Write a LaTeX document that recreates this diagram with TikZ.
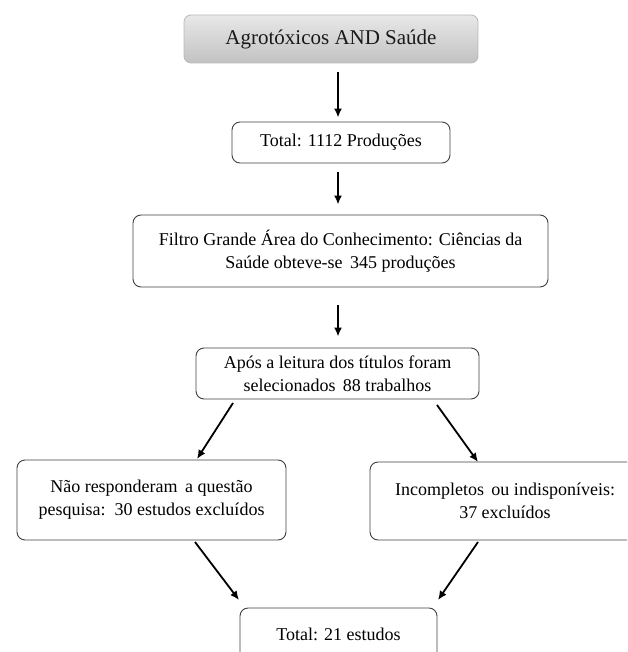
\documentclass[tikz,border=0pt]{standalone}
\usepackage{fontspec}
\setmainfont{Liberation Serif}
\usetikzlibrary{arrows.meta}
\begin{document}
\begin{tikzpicture}[x=1pt,y=-1pt,
  box/.style={draw=black!75, line width=0.9pt, rounded corners=8pt, fill=white,
    align=center, inner sep=0pt, text=black, font=\fontsize{18}{23}\selectfont},
  topbox/.style={draw=black!28, line width=0.8pt, rounded corners=7pt,
    top color=black!9, bottom color=black!24, inner sep=0pt, text=black!90,
    font=\fontsize{21}{25}\selectfont},
  arr/.style={-{Latex[length=9pt,width=8pt]}, line width=1.8pt}]
\useasboundingbox (0,0) rectangle (627,652);
\clip (0,0) rectangle (627,652);
\node[topbox, minimum width=294pt, minimum height=48pt] (top) at (331,39) {Agrotóxicos AND Saúde};
\node[box, minimum width=218pt, minimum height=41pt] (tot) at (341,142.5) {Total: 1112 Produções};
\node[box, minimum width=415pt, minimum height=72pt] (filt) at (340.5,251) {Filtro Grande Área do Conhecimento: Ciências da\\Saúde obteve-se \,345 produções};
\node[box, minimum width=283pt, minimum height=51pt] (apos) at (337.5,373.5) {Após a leitura dos títulos foram\\selecionados \,88 trabalhos};
\node[box, minimum width=269pt, minimum height=80pt] (nao) at (151.5,500) {Não responderam \,a questão\\pesquisa: \,30 estudos excluídos};
\node[box, minimum width=270pt, minimum height=78pt] (inc) at (505,501) {Incompletos \,ou indisponíveis:\\37 excluídos};
\node[box, minimum width=197pt, minimum height=52pt] (fim) at (338.5,634) {Total: 21 estudos};
\coordinate (ax) at (338,0);
\draw[arr, shorten <=9pt, shorten >=4pt] (top.south -| ax) -- (tot.north -| ax);
\draw[arr, shorten <=9pt, shorten >=10pt] (tot.south -| ax) -- (filt.north -| ax);
\draw[arr, shorten <=18pt, shorten >=11pt] (filt.south -| ax) -- (apos.north -| ax);
\coordinate (l1) at (233,403);
\coordinate (l2) at (197,459);
\coordinate (r1) at (437,405);
\coordinate (r2) at (478,462);
\coordinate (l3) at (195,542);
\coordinate (l4) at (239,600);
\coordinate (r3) at (478,542);
\coordinate (r4) at (438,600);
\draw[arr] (l1) -- (l2);
\draw[arr] (r1) -- (r2);
\draw[arr] (l3) -- (l4);
\draw[arr] (r3) -- (r4);
\end{tikzpicture}
\end{document}
